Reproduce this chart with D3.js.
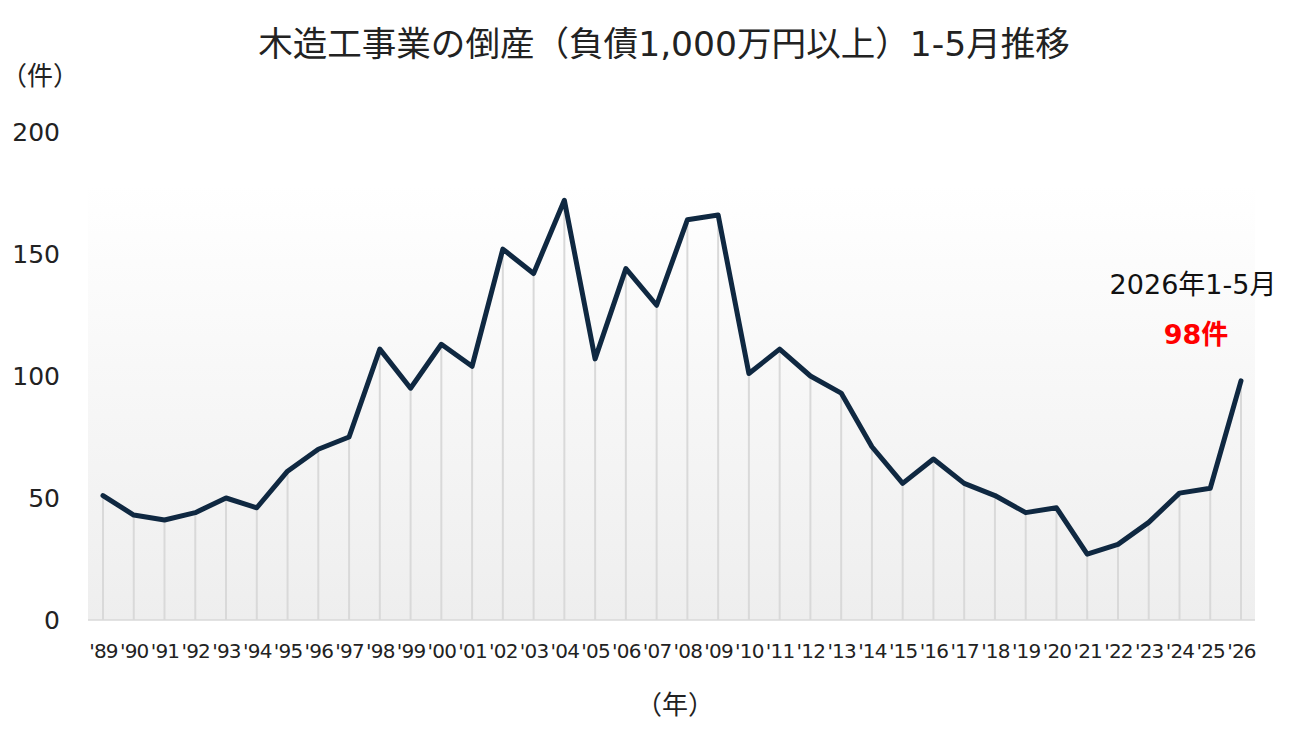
<!DOCTYPE html>
<html><head><meta charset="utf-8">
<script src="https://cdn.jsdelivr.net/npm/d3@7"></script>
<style>
body{margin:0;background:#fff;}
text{font-family:"DejaVu Sans","Noto Sans CJK JP",sans-serif;}
</style></head>
<body><svg id="c" width="1300" height="750"></svg>
<script>
const years = ["'89","'90","'91","'92","'93","'94","'95","'96","'97","'98","'99","'00","'01","'02","'03","'04","'05","'06","'07","'08","'09","'10","'11","'12","'13","'14","'15","'16","'17","'18","'19","'20","'21","'22","'23","'24","'25","'26"];
const counts = [51,43,41,44,50,46,61,70,75,111,95,113,104,152,142,172,107,144,129,164,166,101,111,100,93,71,56,66,56,51,44,46,27,31,40,52,54,98];
const yTicks = [0,50,100,150,200];
const title = "木造工事業の倒産（負債1,000万円以上）1-5月推移";
const annoLabel = "2026年1-5月";
const annoValue = "98件";

const svg = d3.select("#c");
const defs = svg.append("defs");
const grad = defs.append("linearGradient").attr("id","bg").attr("x1",0).attr("y1",0).attr("x2",0).attr("y2",1);
grad.append("stop").attr("offset","0%").attr("stop-color","#ffffff");
grad.append("stop").attr("offset","100%").attr("stop-color","#eeeeee");

const x = d3.scalePoint().domain(years).range([103,1241]);
const y = d3.scaleLinear().domain([0,200]).range([620,132]);

svg.append("rect").attr("x",88).attr("y",185).attr("width",1255-88).attr("height",620-185).attr("fill","url(#bg)");

// drop lines
svg.append("g").selectAll("line").data(counts).join("line")
  .attr("x1",(d,i)=>x(years[i])).attr("x2",(d,i)=>x(years[i]))
  .attr("y1",d=>y(d)).attr("y2",y(0))
  .attr("stroke","#d9d9d9").attr("stroke-width",2);

// baseline
svg.append("line").attr("x1",88).attr("x2",1255).attr("y1",y(0)).attr("y2",y(0)).attr("stroke","#d9d9d9").attr("stroke-width",1.5);

// y axis
const ya = svg.append("g").attr("transform","translate(60,0)")
  .call(d3.axisLeft(y).tickValues(yTicks).tickSize(0).tickPadding(0));
ya.select(".domain").remove();
ya.selectAll("text").attr("font-size",25).attr("fill","#222").style("font-family",'"DejaVu Sans",sans-serif');

// x axis
const xa = svg.append("g").attr("transform","translate(0,641)")
  .call(d3.axisBottom(x).tickSize(0).tickPadding(0));
xa.select(".domain").remove();
xa.selectAll("text").attr("font-size",20).attr("fill","#222").attr("dy","0.85em").attr("letter-spacing","-0.8px").style("font-family",'"DejaVu Sans",sans-serif');

// line
svg.append("path").datum(counts)
  .attr("d",d3.line().x((d,i)=>x(years[i])).y(d=>y(d)))
  .attr("fill","none").attr("stroke","#0f2841").attr("stroke-width",5).attr("stroke-linejoin","round").attr("stroke-linecap","round");

// title
const t = svg.append("text").attr("x",664).attr("y",56).attr("text-anchor","middle").attr("font-size",32).attr("fill","#222").text(title);
const tw = t.node().getComputedTextLength();
t.attr("font-size", 32*812/tw);

svg.append("text").attr("x",40).attr("y",85).attr("text-anchor","middle").attr("font-size",26).attr("fill","#222").text("（件）");
svg.append("text").attr("x",675).attr("y",714).attr("text-anchor","middle").attr("font-size",26).attr("fill","#222").text("（年）");

svg.append("text").attr("x",1193).attr("y",294).attr("text-anchor","middle").attr("font-size",27).attr("fill","#111").text(annoLabel);
svg.append("text").attr("x",1196).attr("y",344).attr("text-anchor","middle").attr("font-size",27).attr("font-weight","bold").attr("fill","#ff0000").text(annoValue);
</script></body></html>
